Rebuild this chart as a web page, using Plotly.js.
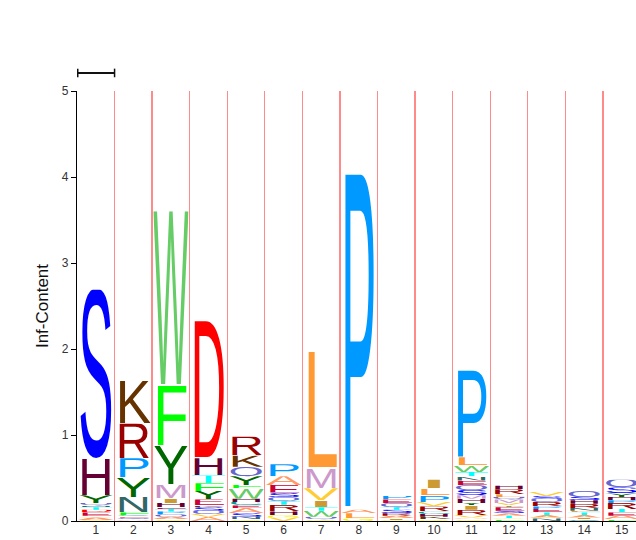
<!DOCTYPE html>
<html>
<head>
<meta charset="utf-8">
<script src="https://cdn.plot.ly/plotly-3.0.1.min.js"></script>
<style>html,body{margin:0;padding:0;background:#fff;}#chart{width:636px;height:540px;}</style>
</head>
<body>
<div id="chart"></div>
<script>
// Column positions (HMM match states)
const positions = [1,2,3,4,5,6,7,8,9,10,11,12,13,14,15];
const tickLabels = ["1","2","3","4","5","6","7","8","9","10","11","12","13","14","15"];

// Letters per column, stacked bottom -> top
const columnLetters = [
  ["G","A","V","E","D","T","N","Q","Y","H","S"],
  ["A","Q","E","C","F","N","Y","P","R","K"],
  ["G","A","Q","P","T","E","H","I","M","Y","F","W"],
  ["A","V","Q","S","K","E","Y","F","T","H","D"],
  ["G","N","S","A","E","C","H","W","F","Y","Q","K","R"],
  ["V","G","H","R","T","Q","S","E","A","P"],
  ["G","Q","W","T","I","V","M","L"],
  ["G","L","A","P"],
  ["G","I","A","R","S","T","Q","E","P"],
  ["G","K","H","C","R","V","P","L","I"],
  ["G","A","V","R","I","Y","H","M","S","Q","E","N","T","W","L","P"],
  ["F","G","T","A","S","E","Y","V","M","Q","L","R","H"],
  ["N","G","A","T","E","P","R","Q","S","V"],
  ["C","I","A","T","L","N","R","H","S","Q"],
  ["F","A","E","T","R","P","H","Y","S","Q"]
];

// Information content (bits) for each letter, same order
const columnHeights = [
  [0.01,0.03,0.02,0.04,0.03,0.03,0.02,0.03,0.09,0.43,1.96],
  [0.02,0.02,0.02,0.01,0.03,0.18,0.23,0.22,0.40,0.50],
  [0.02,0.03,0.03,0.03,0.03,0.02,0.05,0.05,0.16,0.46,0.69,2.05],
  [0.05,0.03,0.04,0.04,0.02,0.07,0.10,0.09,0.09,0.20,1.60],
  [0.02,0.03,0.04,0.06,0.03,0.04,0.04,0.12,0.04,0.10,0.11,0.13,0.22],
  [0.04,0.03,0.04,0.08,0.04,0.05,0.05,0.09,0.10,0.14],
  [0.02,0.03,0.07,0.04,0.08,0.14,0.23,1.36],
  [0.03,0.06,0.04,3.93],
  [0.01,0.02,0.03,0.03,0.04,0.03,0.05,0.04,0.04],
  [0.02,0.03,0.03,0.03,0.06,0.05,0.08,0.08,0.10],
  [0.02,0.02,0.03,0.06,0.05,0.03,0.05,0.04,0.06,0.06,0.05,0.05,0.05,0.08,0.09,1.02],
  [0.02,0.01,0.03,0.03,0.03,0.04,0.02,0.03,0.04,0.03,0.03,0.06,0.04],
  [0.03,0.01,0.03,0.03,0.04,0.03,0.05,0.04,0.03,0.05],
  [0.02,0.02,0.03,0.03,0.02,0.03,0.05,0.04,0.04,0.07],
  [0.02,0.04,0.04,0.04,0.07,0.03,0.04,0.04,0.07,0.09]
];

// Amino-acid colour scheme
const aaColors = {
  A:"#FF9966", C:"#009999", D:"#FF0000", E:"#CC0033", F:"#00FF00",
  G:"#F2F20C", H:"#660033", I:"#CC9933", K:"#663300", L:"#FF9933",
  M:"#CC99CC", N:"#336666", P:"#0099FF", Q:"#6666CC", R:"#990000",
  S:"#0000FF", T:"#00FFFF", V:"#FFCC33", W:"#66CC66", Y:"#006600"
};

function letterSource(ch) {
  const w = 60;
  // Liberation Sans cap height = 0.688 em -> 68.8 units at font-size 100
  const svg = '<svg xmlns="http://www.w3.org/2000/svg" width="60" height="70" viewBox="0 -69.4 ' + w + ' 70.2" preserveAspectRatio="none">' +
    '<text x="0" y="0" font-family="Liberation Sans, Arial, sans-serif" font-size="100" fill="' + aaColors[ch] +
    '" textLength="' + w + '" lengthAdjust="spacingAndGlyphs">' + ch + '</text></svg>';
  return 'data:image/svg+xml;charset=utf-8,' + encodeURIComponent(svg);
}

const images = [];
positions.forEach((pos, i) => {
  let base = 0;
  columnLetters[i].forEach((ch, j) => {
    const h = columnHeights[i][j];
    images.push({
      source: letterSource(ch), xref: 'x', yref: 'y',
      x: pos - 0.47, y: base + h, sizex: 0.94, sizey: h,
      xanchor: 'left', yanchor: 'top', sizing: 'stretch', layer: 'above'
    });
    base += h;
  });
});

const boundaries = positions.slice(0, -1).map(p => p + 0.5);

const traces = [
  { x: positions, y: positions.map(() => 0), type: 'scatter', mode: 'markers',
    marker: {opacity: 0}, hoverinfo: 'skip', showlegend: false, xaxis: 'x', yaxis: 'y' },
  { x: positions, y: positions.map(() => 0), type: 'scatter', mode: 'markers',
    marker: {opacity: 0}, hoverinfo: 'skip', showlegend: false, xaxis: 'x2', yaxis: 'y' }
];

const layout = {
  width: 636, height: 540,
  margin: {l: 77, r: 0, t: 91, b: 19},
  paper_bgcolor: '#ffffff', plot_bgcolor: '#ffffff',
  showlegend: false,
  font: {family: 'Liberation Sans, Arial, sans-serif', color: '#333'},
  xaxis: {
    range: [0.5, 15.38], tickmode: 'array', tickvals: boundaries,
    ticktext: boundaries.map(() => ''), ticks: 'outside', ticklen: 4, tickcolor: '#000',
    showgrid: true, gridcolor: '#ff8a8a', gridwidth: 1.3,
    showline: true, linecolor: '#000', linewidth: 1.2, zeroline: false,
    fixedrange: true, automargin: false
  },
  xaxis2: {
    overlaying: 'x', side: 'bottom', range: [0.5, 15.38],
    tickmode: 'array', tickvals: positions, ticktext: tickLabels,
    ticks: '', showgrid: false, showline: false, zeroline: false,
    tickfont: {size: 12, color: '#333'}, automargin: false
  },
  yaxis: {
    range: [0, 5], tickmode: 'array', tickvals: [0,1,2,3,4,5],
    ticks: 'outside', ticklen: 5, tickcolor: '#000',
    showgrid: false, zeroline: false, showline: true, linecolor: '#000', linewidth: 1.2,
    tickfont: {size: 12, color: '#333'},
    title: {text: 'Inf-Content', font: {size: 17, color: '#111'}, standoff: 8},
    automargin: false
  },
  images: images,
  shapes: [
    {type: 'line', xref: 'x', yref: 'paper', x0: 0.52, x1: 1.5, y0: 1.042, y1: 1.042,
     line: {color: '#111', width: 2}},
    {type: 'line', xref: 'x', yref: 'paper', x0: 0.52, x1: 0.52, y0: 1.032, y1: 1.052,
     line: {color: '#111', width: 1.5}},
    {type: 'line', xref: 'x', yref: 'paper', x0: 1.5, x1: 1.5, y0: 1.032, y1: 1.052,
     line: {color: '#111', width: 1.5}}
  ]
};

Plotly.newPlot('chart', traces, layout, {displayModeBar: false, staticPlot: true});
</script>
</body>
</html>
